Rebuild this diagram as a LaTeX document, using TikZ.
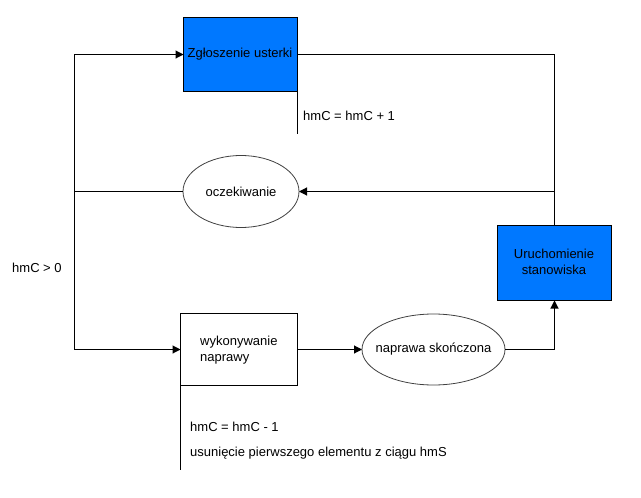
\documentclass[tikz,border=0pt]{standalone}
\usepackage{fontspec}
\setmainfont{Liberation Sans}
\usetikzlibrary{arrows.meta,shapes.geometric}
\definecolor{boxblue}{RGB}{0,120,255}
\begin{document}
\begin{tikzpicture}[x=1pt,y=-1pt,
  every node/.style={font=\fontsize{13}{16}\selectfont},
  conn/.style={draw=black,line width=1.1pt},
  arr/.style={conn,-{Triangle[length=8pt,width=8pt]}},
  bluebox/.style={draw=black,line width=1.1pt,fill=boxblue,inner sep=0pt,outer sep=0pt,anchor=north west},
  whitebox/.style={draw=black,line width=1.1pt,fill=white,inner sep=0pt,outer sep=0pt,anchor=north west},
  oval/.style={ellipse,draw=black!75,line width=0.8pt,inner sep=0pt,outer sep=0pt},
  lbl/.style={anchor=west,inner sep=0pt}]
\useasboundingbox (0,0) rectangle (641,498);
% boxes
\node[bluebox,minimum width=114pt,minimum height=74pt] (zg) at (183.5,17.5) {};
\node at (240,54) {Zgłoszenie usterki};
\node[bluebox,minimum width=114pt,minimum height=75pt] (ur) at (497.5,225.5) {};
\node[align=center,inner sep=0pt] at (554,262) {Uruchomienie\\stanowiska};
\node[whitebox,minimum width=117pt,minimum height=72pt] (wk) at (180.5,313.5) {};
\node[align=left,anchor=west,inner sep=0pt] at (200,350) {wykonywanie\\naprawy};
% ellipses (outline only; text placed on top)
\node[oval,minimum width=116pt,minimum height=72pt] (oc) at (241,191.5) {};
\node at (oc.center) {oczekiwanie};
\node[oval,minimum width=143pt,minimum height=71pt] (ns) at (433.5,349.5) {};
\node at (ns.center) {naprawa skończona};
% junction coordinates
\coordinate (jr) at (554.5,191.5);
\coordinate (jl) at (74.5,191.5);
\coordinate (cl) at (74.5,349.5);
\coordinate (e1) at (297.5,134);
\coordinate (e2) at (180.5,470);
% connectors
\draw[conn] (zg.east) -| (ur.north);
\draw[arr] (jr) -- (oc.east);
\draw[conn] (oc.west) -- (jl);
\draw[arr] (cl) |- (zg.west);
\draw[arr] (cl) -- (wk.west);
\draw[arr] (wk.east) -- (ns.west);
\draw[arr] (ns.east) -| (ur.south);
\draw[conn] (zg.south east) -- (e1);
\draw[conn] (wk.south west) -- (e2);
% labels
\node[lbl] at (303,116) {hmC = hmC + 1};
\node[lbl] at (12,268) {hmC > 0};
\node[lbl] at (190,427) {hmC = hmC - 1};
\node[lbl] at (190,453) {usunięcie pierwszego elementu z ciągu hmS};
\end{tikzpicture}
\end{document}
